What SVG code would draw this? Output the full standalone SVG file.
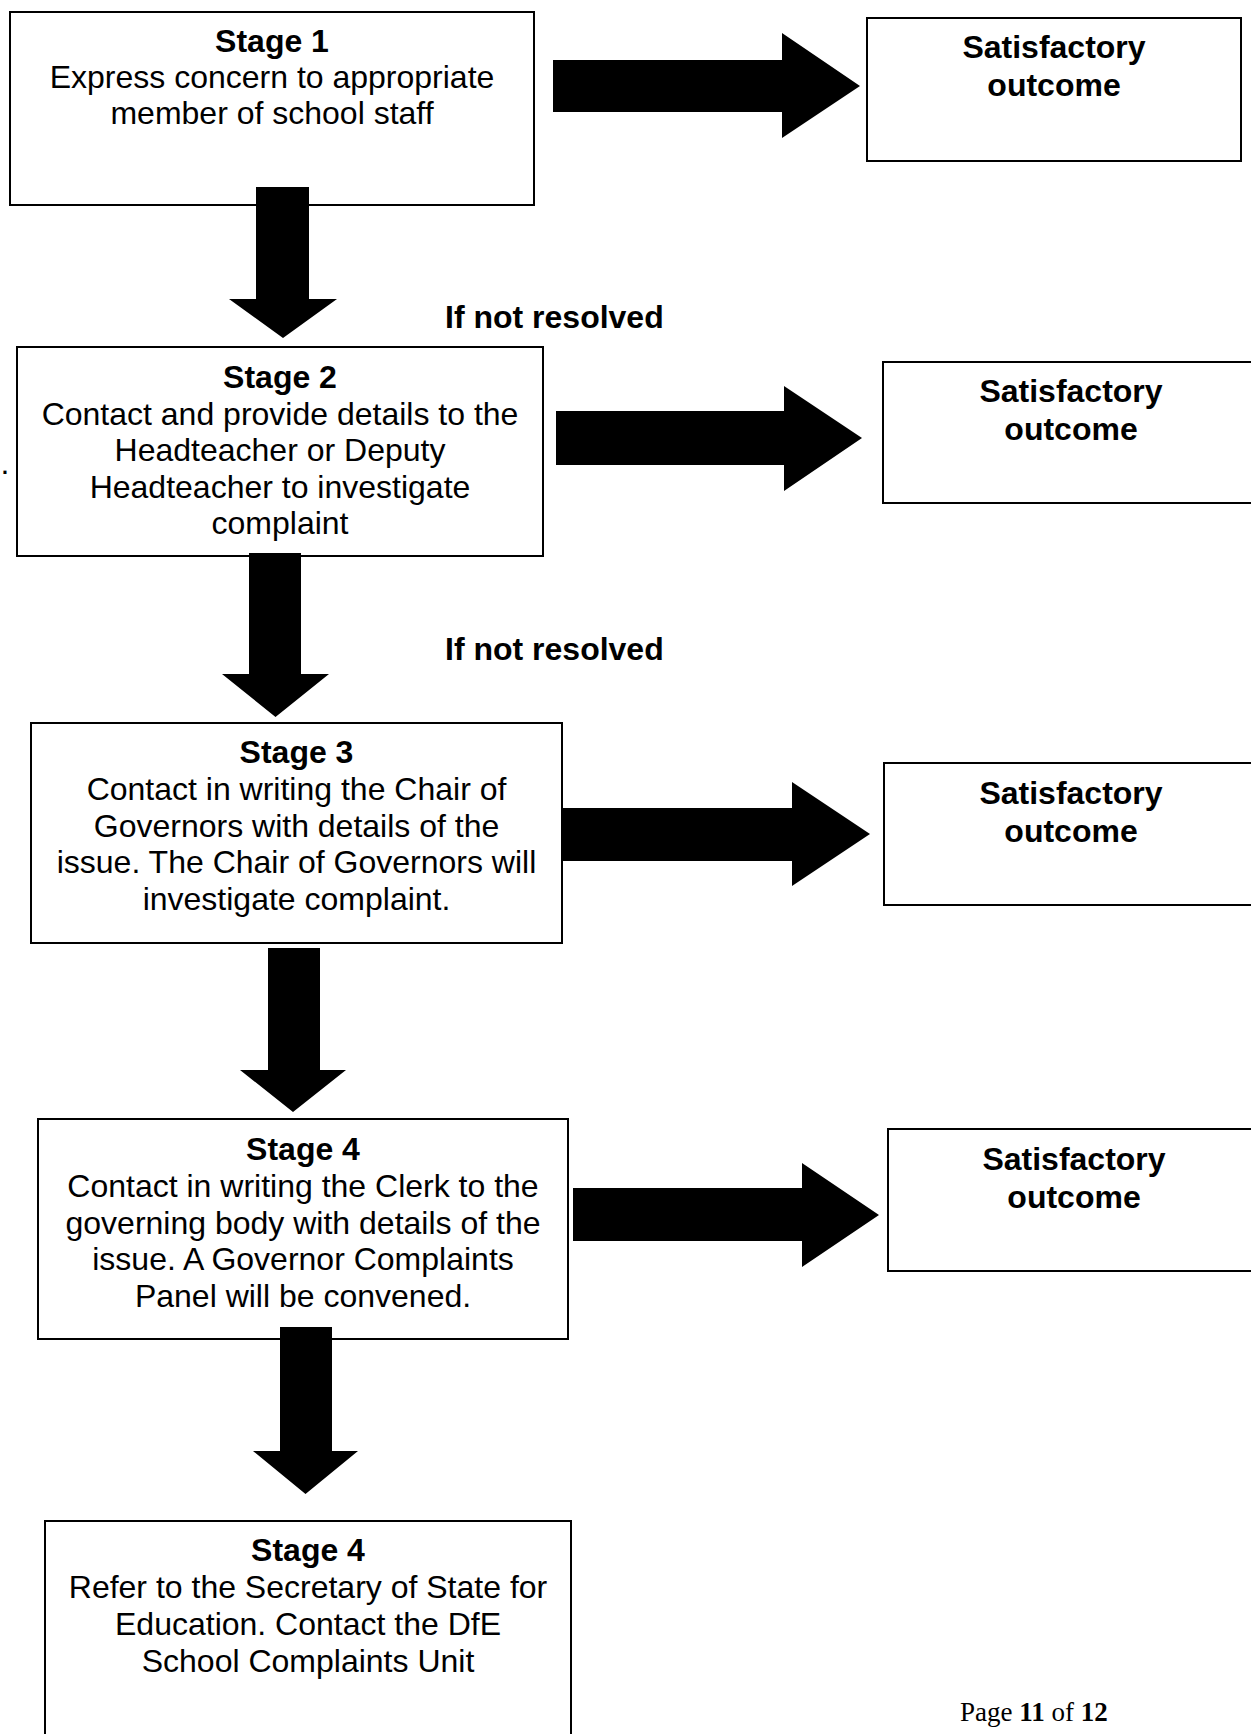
<svg xmlns="http://www.w3.org/2000/svg" width="1251" height="1734" viewBox="0 0 1251 1734">
<style>
.box{fill:#fff;stroke:#000;stroke-width:2}
.t{font-family:"Liberation Sans",Arial,sans-serif;font-size:32px;fill:#000;text-anchor:middle}
.b{font-weight:bold}
.lbl{font-family:"Liberation Sans",Arial,sans-serif;font-size:32px;font-weight:bold;fill:#000}
.arr{fill:#000}
.foot{font-family:"Liberation Serif","Times New Roman",serif;font-size:27px;fill:#000}
</style>
<rect width="1251" height="1734" fill="#fff"/>
<g id="stage1">
<rect class="box" x="10" y="12" width="524" height="193"/>
<text class="t b" x="272" y="52">Stage 1</text>
<text class="t" x="272" y="88">Express concern to appropriate</text>
<text class="t" x="272" y="124">member of school staff</text>
</g>
<g id="outcome1">
<rect class="box" x="867" y="18" width="374" height="143"/>
<text class="t b" x="1054" y="58">Satisfactory</text>
<text class="t b" x="1054" y="96">outcome</text>
</g>
<g id="stage2">
<rect class="box" x="17" y="347" width="526" height="209"/>
<text class="t b" x="280" y="388">Stage 2</text>
<text class="t" x="280" y="424.5">Contact and provide details to the</text>
<text class="t" x="280" y="461">Headteacher or Deputy</text>
<text class="t" x="280" y="497.5">Headteacher to investigate</text>
<text class="t" x="280" y="534">complaint</text>
</g>
<text class="t" x="5" y="474">.</text>
<g id="outcome2">
<rect class="box" x="883" y="362" width="378" height="141"/>
<text class="t b" x="1071" y="402">Satisfactory</text>
<text class="t b" x="1071" y="440">outcome</text>
</g>
<g id="stage3">
<rect class="box" x="31" y="723" width="531" height="220"/>
<text class="t b" x="296.5" y="763">Stage 3</text>
<text class="t" x="296.5" y="800">Contact in writing the Chair of</text>
<text class="t" x="296.5" y="836.5">Governors with details of the</text>
<text class="t" x="296.5" y="873">issue. The Chair of Governors will</text>
<text class="t" x="296.5" y="909.5">investigate complaint.</text>
</g>
<g id="outcome3">
<rect class="box" x="884" y="763" width="378" height="142"/>
<text class="t b" x="1071" y="804">Satisfactory</text>
<text class="t b" x="1071" y="842">outcome</text>
</g>
<g id="stage4">
<rect class="box" x="38" y="1119" width="530" height="220"/>
<text class="t b" x="303" y="1160">Stage 4</text>
<text class="t" x="303" y="1197">Contact in writing the Clerk to the</text>
<text class="t" x="303" y="1233.5">governing body with details of the</text>
<text class="t" x="303" y="1270">issue. A Governor Complaints</text>
<text class="t" x="303" y="1306.5">Panel will be convened.</text>
</g>
<g id="outcome4">
<rect class="box" x="888" y="1129" width="378" height="142"/>
<text class="t b" x="1074" y="1170">Satisfactory</text>
<text class="t b" x="1074" y="1208">outcome</text>
</g>
<g id="stage4b">
<rect class="box" x="45" y="1521" width="526" height="230"/>
<text class="t b" x="308" y="1561">Stage 4</text>
<text class="t" x="308" y="1598">Refer to the Secretary of State for</text>
<text class="t" x="308" y="1635">Education. Contact the DfE</text>
<text class="t" x="308" y="1672">School Complaints Unit</text>
</g>
<g id="connectors">
<polygon class="arr" points="553,60 782,60 782,33 860,86 782,138 782,112 553,112"/>
<polygon class="arr" points="556,411 784,411 784,386 862,438 784,491 784,465 556,465"/>
<polygon class="arr" points="563,808 792,808 792,782 870,834 792,886 792,861 563,861"/>
<polygon class="arr" points="573,1188 802,1188 802,1163 879,1215 802,1267 802,1241 573,1241"/>
<polygon class="arr" points="256,187 309,187 309,299 337,299 283,338 229,299 256,299"/>
<polygon class="arr" points="249,553 301,553 301,674 329,674 275.5,717 222,674 249,674"/>
<polygon class="arr" points="268,948 320,948 320,1070 346,1070 293,1112 240,1070 268,1070"/>
<polygon class="arr" points="280,1327 332,1327 332,1451 358,1451 305.5,1494 253,1451 280,1451"/>
<text class="lbl" x="445" y="328">If not resolved</text>
<text class="lbl" x="445" y="660">If not resolved</text>
</g>
<text class="foot" x="960" y="1721">Page <tspan font-weight="bold">11</tspan> of <tspan font-weight="bold">12</tspan></text>
</svg>
